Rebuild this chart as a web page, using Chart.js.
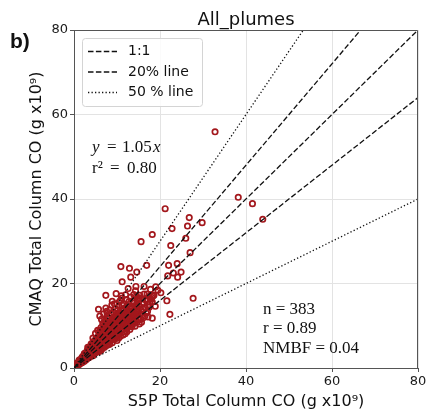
<!DOCTYPE html>
<html>
<head>
<meta charset="utf-8">
<script src="https://cdn.jsdelivr.net/npm/chart.js@4.4.1/dist/chart.umd.min.js"></script>
<style>
  html, body { margin: 0; padding: 0; background: #ffffff; }
  #wrap { width: 431px; height: 415px; }
</style>
</head>
<body>
<div id="wrap"><canvas id="plume" width="431" height="415"></canvas></div>
<script>
// S5P (x) vs CMAQ (y) total column CO, g x10^9, grouped by S5P range
const pointsBelow4 = [
  [0.3,0.4],[0.5,0.3],[0.6,0.8],[0.8,0.6],[0.9,1.1],[1.0,0.9],[1.1,1.4],[1.2,0.8],[1.3,1.2],[1.4,1.7],
  [1.5,1.1],[1.5,2.0],[1.6,1.4],[1.7,1.2],[1.8,2.2],[1.8,1.6],[1.9,1.3],[1.9,2.6],[2.0,1.8],[0.7,1.2],
  [2.1,1.5],[2.1,2.3],[2.2,2.9],[2.3,1.8],[2.3,2.5],[2.4,1.6],[2.5,3.1],[2.5,2.2],[2.6,2.7],[2.7,1.9],
  [2.7,3.6],[2.8,2.4],[2.9,3.0],[2.9,2.1],[3.0,3.4],[3.0,2.6],[3.1,4.2],[3.1,2.3],[3.2,3.1],[3.3,3.7],
  [3.3,2.7],[3.4,2.4],[3.4,4.6],[3.5,3.3],[3.5,3.9],[3.6,2.8],[3.6,4.3],[3.7,3.5],[3.7,2.6],[3.8,4.0],
  [3.8,3.1],[3.9,5.2],[3.9,3.7],[4.0,2.9],[4.0,4.4],[1.2,1.9],[2.4,3.4],[3.2,4.9],[3.6,3.6]
];
const points4to8 = [
  [4.1,3.6],[4.1,4.9],[4.2,3.2],[4.2,4.2],[4.3,5.6],[4.3,3.9],[4.4,2.9],[4.4,4.6],[4.5,3.7],[4.5,5.1],
  [4.6,4.1],[4.6,6.3],[4.7,3.4],[4.7,4.8],[4.8,5.5],[4.8,4.2],[4.9,3.6],[4.9,6.0],[5.0,4.7],[5.0,5.3],
  [5.1,3.9],[5.1,7.0],[5.2,4.4],[5.2,5.8],[5.3,5.0],[5.3,3.7],[5.4,6.4],[5.4,4.6],[5.5,5.4],[5.5,8.9],
  [5.6,4.2],[5.6,6.1],[5.7,5.0],[5.7,7.6],[5.7,13.9],[5.8,4.5],[5.8,5.8],[5.9,6.7],[5.9,3.9],[6.0,5.2],
  [6.0,12.3],[6.0,6.3],[4.4,7.1],[5.0,8.2],[5.5,7.0],
  [6.1,4.8],[6.1,7.4],[6.2,5.6],[6.2,6.8],[6.3,4.2],[6.3,9.6],[6.4,6.0],[6.4,7.2],[6.5,5.1],[6.5,8.3],
  [6.6,6.6],[6.6,4.6],[6.7,7.8],[6.7,10.5],[6.8,5.7],[6.8,6.9],[6.9,8.8],[6.9,5.0],[7.0,7.3],[7.0,6.2],
  [7.1,9.4],[7.1,4.9],[7.2,7.9],[7.2,6.5],[7.3,11.2],[7.3,5.6],[7.4,17.2],[7.4,7.0],[7.5,8.4],[7.5,6.0],
  [7.6,5.3],[7.6,9.9],[7.7,7.6],[7.7,12.3],[7.8,6.6],[7.8,8.9],[7.9,5.5],[7.9,7.3],[8.0,10.6],[8.0,8.1],
  [6.4,11.5],[6.9,12.8],[7.2,10.1],[6.2,8.6],[7.6,13.4],[7.9,11.7],[6.8,9.4],[7.4,14.2],[6.0,9.0],[7.0,11.0],
  [4.0,5.7],[4.6,5.4],[5.2,6.6],[5.9,7.7],[6.3,7.6],[6.6,8.7],[7.1,8.3],[7.5,9.5]
];
const points8to12 = [
  [8.1,6.2],[8.1,9.2],[8.2,7.5],[8.2,11.8],[8.3,5.6],[8.3,8.6],[8.4,10.3],[8.4,7.0],[8.5,9.6],[8.5,6.4],
  [8.6,12.9],[8.6,8.1],[8.7,7.3],[8.7,10.9],[8.8,14.9],[8.8,9.0],[8.9,6.0],[8.9,8.4],[9.0,11.4],[9.0,7.7],
  [9.1,9.9],[9.1,13.3],[9.2,6.8],[9.2,8.8],[9.3,10.6],[9.3,7.4],[9.4,12.2],[9.4,9.3],[9.5,6.8],[9.5,8.0],
  [9.6,11.0],[9.6,14.1],[9.7,9.6],[9.7,7.2],[9.8,17.6],[9.8,10.3],[9.9,8.4],[9.9,12.6],[10.0,6.5],[10.0,9.1],
  [8.3,13.7],[8.9,15.8],[9.4,15.2],[8.5,11.2],[9.1,10.7],[9.7,11.8],[8.7,9.8],[9.3,8.2],[9.9,10.9],[8.1,10.4],
  [10.1,11.6],[10.1,7.6],[10.2,9.9],[10.2,13.8],[10.3,8.7],[10.3,10.7],[10.4,12.4],[10.4,7.1],[10.5,9.4],[10.5,15.6],
  [10.6,11.2],[10.6,8.2],[10.7,10.2],[10.7,13.1],[10.8,7.5],[10.8,11.9],[10.9,24.0],[10.9,9.7],[11.0,12.8],[11.0,8.9],
  [11.1,10.6],[11.1,16.5],[11.2,20.4],[11.2,14.9],[11.3,9.2],[11.3,11.4],[11.4,7.8],[11.4,13.5],[11.5,10.3],[11.5,12.1],
  [11.6,8.6],[11.6,15.2],[11.7,11.0],[11.7,9.6],[11.8,13.0],[11.8,12.0],[11.9,8.1],[11.9,10.8],[12.0,14.3],[12.0,11.6],
  [10.4,14.6],[11.0,17.1],[10.8,16.0],[11.6,13.9],[10.2,12.2],
  [8.0,9.3],[8.6,10.0],[9.0,10.2],[9.5,11.6],[10.0,10.5],[10.6,12.7]
];
const points12to18 = [
  [12.1,9.3],[12.1,12.9],[12.2,10.7],[12.2,16.2],[12.3,8.6],[12.3,11.8],[12.4,13.6],[12.4,10.0],[12.5,12.4],[12.5,14.8],
  [12.6,18.8],[12.6,9.7],[12.7,11.3],[12.7,13.2],[12.8,10.4],[12.8,15.7],[12.9,23.6],[12.9,12.0],[13.0,9.1],[13.0,14.1],
  [13.1,11.0],[13.1,12.7],[13.2,21.5],[13.2,16.8],[13.3,10.2],[13.3,13.5],[13.4,11.7],[13.5,14.4],[13.5,9.8],[13.6,12.3],
  [13.6,15.9],[13.7,10.9],[13.7,13.0],[13.8,15.3],[13.8,11.4],[13.9,12.8],[13.9,17.4],[14.0,10.6],[14.0,13.8],[12.0,17.3],
  [14.1,11.9],[14.2,14.6],[14.2,9.9],[14.3,18.3],[14.3,12.7],[14.4,19.3],[14.4,11.2],[14.5,13.5],[14.6,22.7],[14.6,15.0],
  [14.7,10.8],[14.8,12.4],[14.8,14.1],[14.9,16.4],[15.0,11.6],[15.0,13.3],[15.1,15.8],[15.2,10.4],[15.3,12.9],[15.3,17.2],
  [15.4,14.5],[15.5,11.5],[15.6,29.9],[15.6,13.7],[15.7,10.8],[15.8,15.2],[15.9,12.6],[16.0,14.0],[15.2,16.6],[14.5,16.9],
  [16.1,11.9],[16.2,15.4],[16.3,17.5],[16.3,19.3],[16.5,12.3],[16.5,14.3],[16.7,16.2],[16.9,24.3],[17.0,17.5],[17.1,13.4],
  [17.3,15.0],[17.5,14.4],[17.7,15.6],[17.9,16.3],[16.8,13.0],[17.4,16.9],[16.0,16.4],[17.2,12.1]
];
const pointsAbove18 = [
  [18.1,16.7],[18.2,31.6],[18.2,15.6],[18.3,17.0],[18.2,11.8],[18.6,17.2],[18.9,14.6],[19.5,18.4],[19.0,19.2],[20.2,17.8],
  [21.2,37.7],[21.6,15.9],[21.8,21.8],[22.0,24.3],[22.3,12.7],[22.5,29.0],[22.8,33.0],[23.1,22.5],[24.0,24.7],[24.1,21.5],
  [24.9,22.7],[26.0,30.7],[26.4,33.6],[26.8,35.6],[27.0,27.3],[27.7,16.5],[29.8,34.4],[32.8,55.9],[38.2,40.4],[41.5,38.9],
  [43.9,35.2],[17.8,18.6]
];

// Reference line slopes
const oneToOneSlopes = [1.0];
const band20Slopes = [1.2, 0.8];
const band50Slopes = [1.5, 0.5];

const axisTicks = [0, 20, 40, 60, 80];
const axisMax = 80;

const fitLabel = { slope: '1.05', r2: '0.80' };
const statLines = ['n = 383', 'r = 0.89', 'NMBF = 0.04'];

const RED = '#a3171c';
const DASHED = [5.5, 2.4];
const DOTTED = [1.3, 2.2];

const plumeData = [].concat(pointsBelow4, points4to8, points8to12, points12to18, pointsAbove18)
  .map(([x, y]) => ({ x, y }));

function slopeLine(k) {
  const xEnd = Math.min(axisMax, axisMax / k);
  return [{ x: 0, y: 0 }, { x: xEnd, y: k * xEnd }];
}

function lineSet(k, dash, label) {
  return {
    label, data: slopeLine(k), showLine: true, pointRadius: 0, pointHoverRadius: 0,
    borderColor: '#111111', borderWidth: 1.3, borderDash: dash, fill: false, order: 0
  };
}

const datasets = [
  ...oneToOneSlopes.map(k => lineSet(k, DASHED, '1:1')),
  ...band20Slopes.map(k => lineSet(k, DASHED, '20% line')),
  ...band50Slopes.map(k => lineSet(k, DOTTED, '50 % line')),
  {
    label: 'All_plumes', data: plumeData, showLine: false,
    pointRadius: 2.7, pointHoverRadius: 2.7, pointBorderWidth: 1.7,
    borderColor: RED, pointBorderColor: RED, backgroundColor: 'rgba(0,0,0,0)',
    order: 5
  }
];

const legendItems = [
  { text: '1:1', dash: DASHED },
  { text: '20% line', dash: DASHED },
  { text: '50 % line', dash: DOTTED }
];

const SANS = '"DejaVu Sans", sans-serif';
const SERIF = '"Liberation Serif", "Times New Roman", serif';

const decor = {
  id: 'decor',
  afterDraw(chart) {
    const { ctx, chartArea: a } = chart;
    ctx.save();

    // top and right spines
    ctx.strokeStyle = '#555555';
    ctx.lineWidth = 1;
    ctx.setLineDash([]);
    ctx.beginPath();
    const t = Math.round(a.top) + 0.5, r = Math.round(a.right) - 0.5;
    ctx.moveTo(a.left, t); ctx.lineTo(r, t); ctx.lineTo(r, a.bottom);
    ctx.stroke();

    // title and panel tag
    ctx.fillStyle = '#111111';
    ctx.textBaseline = 'alphabetic';
    ctx.textAlign = 'center';
    ctx.font = '18px ' + SANS;
    ctx.fillText('All_plumes', (a.left + a.right) / 2, 25);
    ctx.textAlign = 'left';
    ctx.font = 'bold 21px "Liberation Sans", Arial, sans-serif';
    ctx.fillText('b)', 10, 48);

    // legend box
    const bx = 82.5, by = 38.5, bw = 120, bh = 68, rad = 3;
    ctx.beginPath();
    ctx.moveTo(bx + rad, by);
    ctx.arcTo(bx + bw, by, bx + bw, by + bh, rad);
    ctx.arcTo(bx + bw, by + bh, bx, by + bh, rad);
    ctx.arcTo(bx, by + bh, bx, by, rad);
    ctx.arcTo(bx, by, bx + bw, by, rad);
    ctx.closePath();
    ctx.fillStyle = 'rgba(255,255,255,0.85)';
    ctx.fill();
    ctx.strokeStyle = '#d4d4d4';
    ctx.stroke();

    ctx.font = '14px ' + SANS;
    ctx.textBaseline = 'middle';
    legendItems.forEach((it, i) => {
      const yy = 51.5 + i * 20.5;
      ctx.strokeStyle = '#111111';
      ctx.lineWidth = 1.3;
      ctx.setLineDash(it.dash);
      ctx.beginPath();
      ctx.moveTo(88, yy); ctx.lineTo(117, yy);
      ctx.stroke();
      ctx.setLineDash([]);
      ctx.fillStyle = '#111111';
      ctx.fillText(it.text, 128, yy);
    });

    // regression text, math-style spacing
    const fs = '17px ' + SERIF, fi = 'italic 17px ' + SERIF;
    ctx.textBaseline = 'alphabetic';
    ctx.font = fi; ctx.fillText('y', 92, 152);
    ctx.font = fs; ctx.fillText('=', 107, 152); ctx.fillText(fitLabel.slope, 122, 152);
    ctx.font = fi; ctx.fillText('x', 153, 152);
    ctx.font = fs;
    ctx.fillText('r\u00b2', 92, 173);
    ctx.fillText('=', 110, 173);
    ctx.fillText(fitLabel.r2, 127, 173);

    statLines.forEach((s, i) => ctx.fillText(s, 263, 313.5 + i * 19.5));

    ctx.restore();
  }
};

const tickFont = { family: SANS, size: 13 };
const titleFont = { family: SANS, size: 16 };

new Chart(document.getElementById('plume'), {
  type: 'scatter',
  data: { datasets },
  options: {
    responsive: false,
    animation: false,
    devicePixelRatio: 1,
    layout: { padding: { left: 22, top: 30, right: 13, bottom: 0 }, autoPadding: false },
    plugins: { legend: { display: false }, tooltip: { enabled: false }, title: { display: false } },
    scales: {
      x: {
        type: 'linear', min: 0, max: axisMax,
        afterBuildTicks(s) { s.ticks = axisTicks.map(v => ({ value: v })); },
        ticks: { font: tickFont, color: '#1a1a1a', padding: 2, maxRotation: 0 },
        grid: { color: '#e3e3e3', lineWidth: 1, tickColor: '#555555', tickLength: 4 },
        border: { display: true, color: '#555555', width: 1 },
        title: { display: true, text: 'S5P Total Column CO (g x10\u2079)', font: titleFont, color: '#111111', padding: { top: 0, bottom: 4 } },
        afterFit(s) { s.height = 47; }
      },
      y: {
        type: 'linear', min: 0, max: axisMax,
        afterBuildTicks(s) { s.ticks = axisTicks.map(v => ({ value: v })); },
        ticks: { font: tickFont, color: '#1a1a1a', padding: 2 },
        grid: { color: '#e3e3e3', lineWidth: 1, tickColor: '#555555', tickLength: 4 },
        border: { display: true, color: '#555555', width: 1 },
        title: { display: true, text: 'CMAQ Total Column CO (g x10\u2079)', font: titleFont, color: '#111111', padding: { top: 5, bottom: 0 } },
        afterFit(s) { s.width = 52; }
      }
    }
  },
  plugins: [decor]
});
</script>
</body>
</html>
